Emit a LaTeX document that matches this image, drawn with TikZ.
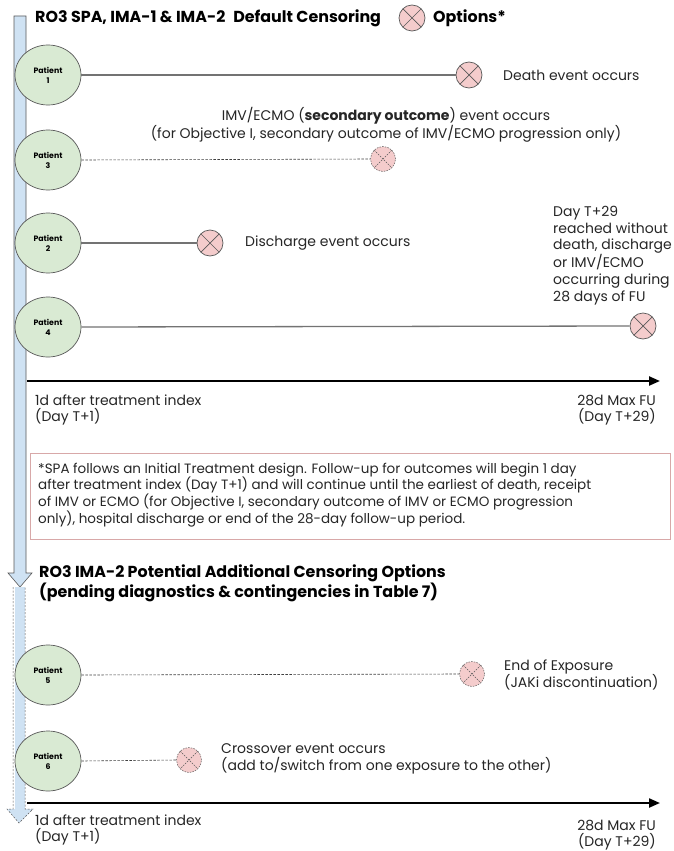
\documentclass[tikz,border=0pt]{standalone}
\usepackage{fontspec}
\setmainfont{Poppins}
\usetikzlibrary{arrows.meta,shapes.geometric}
\definecolor{barblue}{HTML}{CFE2F3}
\definecolor{ptgreen}{HTML}{D9EAD3}
\definecolor{xpink}{HTML}{F4CCCC}
\definecolor{boxred}{HTML}{D8A8A8}
\definecolor{edgegray}{HTML}{595959}
\begin{document}
\begin{tikzpicture}[x=1pt,y=-1pt,
  txt/.style={font=\fontsize{14}{16.7}\selectfont, inner sep=0pt, text=black!85},
  notetxt/.style={font=\fontsize{13.5}{16.7}\selectfont, inner sep=0pt, text=black!85},
  head/.style={font=\bfseries\fontsize{15.9}{16.5}\selectfont, inner sep=0pt, anchor=west},
  patient/.style={ellipse, draw=edgegray, line width=0.7pt, fill=ptgreen, minimum width=66pt, minimum height=60pt, inner sep=0pt, align=center, font=\bfseries\fontsize{7.8}{10}\selectfont},
  xmark/.style={circle, draw=edgegray, fill=xpink, minimum size=26pt, inner sep=0pt, line width=0.7pt,
    path picture={\draw[edgegray, line width=0.7pt] (path picture bounding box.north west) -- (path picture bounding box.south east) (path picture bounding box.north east) -- (path picture bounding box.south west);}},
  xdash/.style={circle, draw=edgegray, fill=xpink, minimum size=25pt, inner sep=0pt, line width=0.5pt, dash pattern=on 1.5pt off 1.2pt,
    path picture={\draw[edgegray, line width=0.5pt, dash pattern=on 1.5pt off 1.2pt] (path picture bounding box.north west) -- (path picture bounding box.south east) (path picture bounding box.north east) -- (path picture bounding box.south west);}},
  ptline/.style={draw=black!55, line width=1.3pt},
  dline/.style={draw=black!75, line width=0.6pt, dash pattern=on 2.5pt off 1.5pt},
  axis/.style={draw=black, line width=2.2pt, -{Triangle[length=11pt,width=9pt]}},
  bar/.style={fill=barblue, draw=edgegray, line width=0.6pt}
]
\useasboundingbox (0,0) rectangle (674,851);
\fill[white] (0,0) rectangle (674,851);

% vertical block arrows
\path[bar] (14,16) -- (26,16) -- (26,573) -- (32,573) -- (20,587) -- (8,573) -- (14,573) -- cycle;
\fill[barblue] (15,587) rectangle (25,809);
\fill[barblue] (15,809) -- (25,809) -- (33,809) -- (19,823) -- (7,809) -- cycle;
\draw[draw=edgegray, line width=0.5pt, dash pattern=on 2pt off 1.5pt] (13,587) -- (13,809) -- (7,809) -- (19,823) -- (33,809) -- (25,809) -- (25,587);

% titles
\node[head] (t1) at (35,18) {RO3 SPA, IMA-1 \& IMA-2\enspace Default Censoring};
\node[xmark] (tx) at (412,18) {};
\node[head] (t2) at (433,18) {Options*};

% patients
\node[patient] (p1) at (48,75) {Patient\\1};
\node[patient] (p3) at (48,160) {Patient\\3};
\node[patient] (p2) at (48,243) {Patient\\2};
\node[patient] (p4) at (48,327) {Patient\\4};
\node[patient] (p5) at (48,675) {Patient\\5};
\node[patient] (p6) at (48,761) {Patient\\6};

% event marks
\node[xmark] (x1) at (469,75) {};
\node[xdash] (x3) at (383,159) {};
\node[xmark] (x2) at (210,243) {};
\node[xmark] (x4) at (643,326) {};
\node[xdash] (x5) at (472,674) {};
\node[xdash] (x6) at (189,760) {};

% connectors
\draw[ptline] (p1.east) -- (x1.west);
\draw[dline] (p3.east) -- (x3.west);
\draw[ptline] (p2.east) -- (x2.west);
\draw[ptline] (p4.east) -- (x4.west);
\draw[dline] (p5.east) -- (x5.west);
\draw[dline] (p6.east) -- (x6.west);

% labels
\node[txt, anchor=west] (l1) at (503,75) {Death event occurs};
\node[txt, align=center] (l3) at (386,125) {IMV/ECMO (\textbf{secondary outcome}) event occurs\\(for Objective I, secondary outcome of IMV/ECMO progression only)};
\node[txt, anchor=west] (l2) at (245,243) {Discharge event occurs};
\node[txt, anchor=north west, align=left] (l4) at (553,206) {Day T+29\\reached without\\death, discharge\\or IMV/ECMO\\occurring during\\28 days of FU};
\node[txt, anchor=west, align=left] (l5) at (504,675) {End of Exposure\\(JAKi discontinuation)};
\node[txt, anchor=west, align=left] (l6) at (221,759) {Crossover event occurs\\(add to/switch from one exposure to the other)};

% axis 1
\coordinate (a1s) at (27,381);
\coordinate (a1e) at (660,381);
\draw[axis] (a1s) -- (a1e);
\node[txt, anchor=west, align=left] (a1l) at (35,410) {1d after treatment index\\(Day T+1)};
\node[txt, anchor=east, align=right] (a1r) at (656,410) {28d Max FU\\(Day T+29)};

% note box
\node[draw=boxred, line width=0.7pt, anchor=north west, minimum width=640pt, minimum height=86pt, inner sep=0pt] (nb) at (30,453) {};
\node[notetxt, anchor=west, align=left] (nt) at (38,495) {*SPA follows an Initial Treatment design. Follow-up for outcomes will begin 1 day\\after treatment index (Day T+1) and will continue until the earliest of death, receipt\\of IMV or ECMO (for Objective I, secondary outcome of IMV or ECMO progression\\only), hospital discharge or end of the 28-day follow-up period.};

% second section
\node[head, align=left] (t3) at (39,583) {RO3 IMA-2 Potential Additional Censoring Options\\(pending diagnostics \& contingencies in Table 7)};

% axis 2
\coordinate (a2s) at (27,803);
\coordinate (a2e) at (660,803);
\draw[axis] (a2s) -- (a2e);
\node[txt, anchor=west, align=left] (a2l) at (35,830) {1d after treatment index\\(Day T+1)};
\node[txt, anchor=east, align=right] (a2r) at (656,835) {28d Max FU\\(Day T+29)};
\end{tikzpicture}
\end{document}
